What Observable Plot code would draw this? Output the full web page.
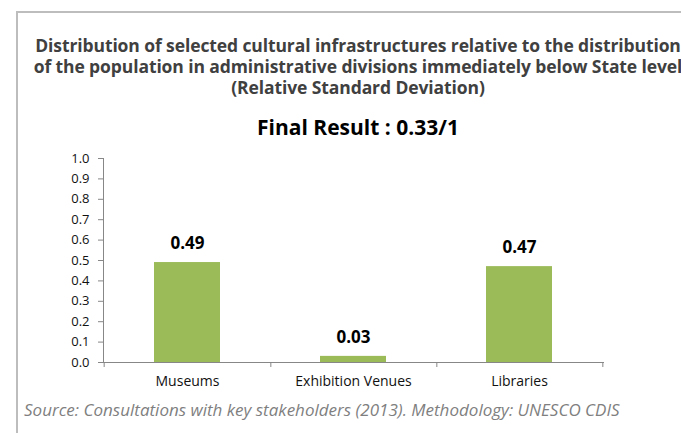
<!DOCTYPE html>
<html>
<head>
<meta charset="utf-8">
<script src="https://cdn.jsdelivr.net/npm/d3@7"></script>
<script src="https://cdn.jsdelivr.net/npm/@observablehq/plot@0.6"></script>
<style>
  html, body { margin: 0; padding: 0; background: #fff; }
  #wrap { position: relative; width: 681px; height: 433px; overflow: hidden; font-family: "Open Sans", Lato, sans-serif; }
  #frame { position: absolute; left: 16px; top: 11px; width: 760px; height: 500px; border: 2px solid #bdbdbd; box-sizing: border-box; }
  .t { position: absolute; white-space: nowrap; transform: translateX(-50%); left: 358px; line-height: 1; }
  #t1, #t2, #t3 { font-weight: bold; font-size: 17.5px; color: #404040; letter-spacing: -0.1px; }
  #t1 { top: 37px; } #t2 { top: 58px; } #t3 { top: 79px; }
  #t4 { top: 117px; font-weight: bold; font-size: 21px; color: #000; }
  #src { position: absolute; left: 24px; top: 401px; font-style: italic; font-size: 17px; color: #7f7f7f; white-space: nowrap; line-height: 1; }
  #chart { position: absolute; left: 0; top: 0; }
</style>
</head>
<body>
<div id="wrap">
  <div id="frame"></div>
  <div id="chart"></div>
  <div class="t" id="t1">Distribution of selected cultural infrastructures relative to the distribution</div>
  <div class="t" id="t2">of the population in administrative divisions immediately below State level</div>
  <div class="t" id="t3">(Relative Standard Deviation)</div>
  <div class="t" id="t4">Final Result : 0.33/1</div>
  <div id="src">Source: Consultations with key stakeholders (2013). Methodology: UNESCO CDIS</div>
</div>
<script>
const categories = ["Museums", "Exhibition Venues", "Libraries"];
const values = [0.49, 0.03, 0.47];
const valueLabels = ["0.49", "0.03", "0.47"];
const yTicks = [0, 0.1, 0.2, 0.3, 0.4, 0.5, 0.6, 0.7, 0.8, 0.9, 1.0];

const data = categories.map((c, i) => ({cat: c, v: values[i], label: valueLabels[i]}));

const W = 681, H = 433;
const mL = 103, mR = 78, mT = 158, mB = 71;
const step = (W - mL - mR) / categories.length;

const chart = Plot.plot({
  width: W,
  height: H,
  marginLeft: mL,
  marginRight: mR,
  marginTop: mT,
  marginBottom: mB,
  style: {fontFamily: "'Open Sans', Lato, sans-serif", background: "transparent"},
  x: {domain: categories, paddingInner: 0.6, paddingOuter: 0.3, label: null},
  y: {domain: [0, 1], label: null},
  marks: [
    Plot.barY(data, {x: "cat", y: "v", fill: "#9bbb59"}),
    Plot.frame({anchor: "left", stroke: "#878787"}),
    Plot.frame({anchor: "bottom", stroke: "#878787"}),
    Plot.ruleX(data.slice(0, 1), {x: "cat", y1: 0, y2: 0, insetTop: 5, dx: -step / 2, stroke: "#878787"}),
    Plot.ruleX(data, {x: "cat", y1: 0, y2: 0, insetTop: 5, dx: step / 2, stroke: "#878787"}),
    Plot.axisY({ticks: yTicks, tickFormat: d => d.toFixed(1), tickSize: 5, tickPadding: 9, stroke: "#878787", fontSize: 13, fill: "#111"}),
    Plot.axisX({tickSize: 0, tickPadding: 14, fontSize: 14, fill: "#111"}),
    Plot.text(data, {x: "cat", y: "v", text: "label", dy: -19, fontSize: 17, fontWeight: "bold", fill: "#000"})
  ]
});
document.getElementById("chart").appendChild(chart);
</script>
</body>
</html>
